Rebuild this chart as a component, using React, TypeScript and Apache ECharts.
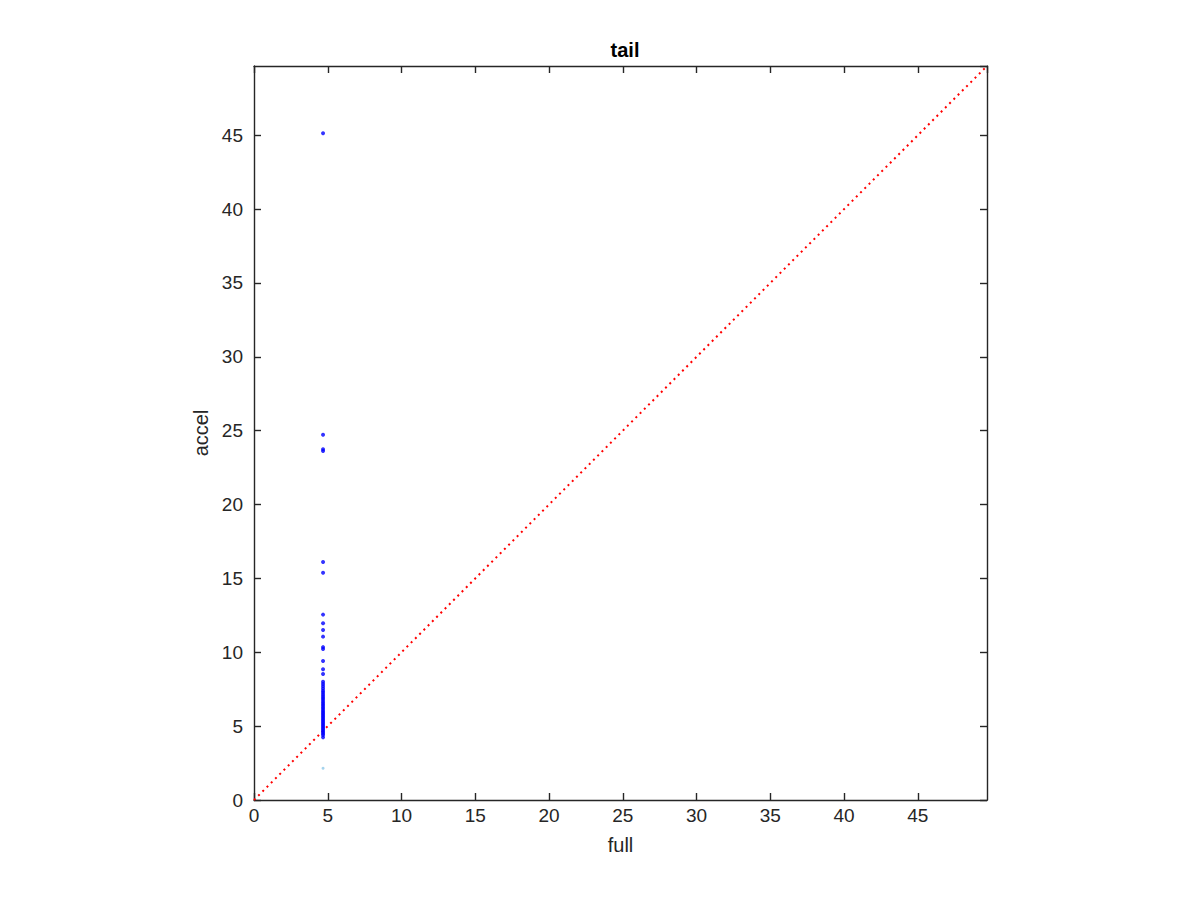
import React, { useEffect, useRef } from "react";
import * as echarts from "echarts";

const AXIS_MAX = 49.69;
const TICK_STEP = 5;
const FULL_VALUE = 4.68;
const accelValues = [
  45.14, 24.73, 23.75, 23.62, 16.11, 15.39, 12.55, 11.96, 11.51, 11.06, 10.35, 10.22,
  9.41, 8.85, 8.53, 8.01, 7.85, 7.7, 7.55, 7.4, 7.28, 7.15, 7.02, 6.9, 6.78, 6.66, 6.55,
  6.44, 6.33, 6.22, 6.11, 6.0, 5.9, 5.8, 5.7, 5.6, 5.5, 5.4, 5.3, 5.2, 5.1, 5.0, 4.9,
  4.8, 4.7, 4.6, 4.5, 4.4, 4.24,
];
const lightAccelValues = [2.15];
const diagonal = [0, AXIS_MAX];

const TEXT = "#262626";
const FONT = "'Liberation Sans', Arial, Helvetica, sans-serif";

export default function App() {
  const ref = useRef<HTMLDivElement>(null);
  useEffect(() => {
    const chart = echarts.init(ref.current!, null, { renderer: "svg" });
    const fmt = (v: number) => (Math.abs(v / TICK_STEP - Math.round(v / TICK_STEP)) < 1e-6 ? String(v) : "");
    const baseAxis = {
      type: "value",
      min: 0,
      max: AXIS_MAX,
      interval: TICK_STEP,
      splitLine: { show: false },
      axisLine: { show: true, onZero: false, lineStyle: { color: TEXT, width: 1.4 } },
      axisTick: { show: true, inside: true, length: 7, lineStyle: { color: TEXT, width: 1.4 } },
    };
    chart.setOption({
      animation: false,
      backgroundColor: "#ffffff",
      title: {
        text: "tail",
        left: 620,
        textAlign: "center",
        top: 35,
        textStyle: { fontFamily: FONT, fontSize: 20, fontWeight: "bold", color: "#000" },
      },
      grid: { left: 254, top: 66, right: 213, bottom: 100, containLabel: false },
      xAxis: [
        {
          ...baseAxis,
          position: "bottom",
          name: "full",
          nameLocation: "middle",
          nameGap: 35,
          nameTextStyle: { fontFamily: FONT, fontSize: 20, color: TEXT },
          axisLabel: { formatter: fmt, showMaxLabel: false, margin: 6, fontFamily: FONT, fontSize: 19, color: TEXT },
        },
        {
          ...baseAxis,
          position: "top",
          axisLabel: { show: false },
        },
      ],
      yAxis: [
        {
          ...baseAxis,
          position: "left",
          name: "accel",
          nameLocation: "middle",
          nameGap: 43,
          nameTextStyle: { fontFamily: FONT, fontSize: 20, color: TEXT },
          axisLabel: { formatter: fmt, showMaxLabel: false, margin: 11, fontFamily: FONT, fontSize: 19, color: TEXT },
        },
        {
          ...baseAxis,
          position: "right",
          axisLabel: { show: false },
        },
      ],
      series: [
        {
          type: "line",
          data: [
            [diagonal[0], diagonal[0]],
            [diagonal[1], diagonal[1]],
          ],
          showSymbol: false,
          symbol: "none",
          lineStyle: { color: "#ff0000", width: 2, type: [2, 4] },
          z: 3,
        },
        {
          type: "scatter",
          data: lightAccelValues.map((v) => [FULL_VALUE, v]),
          symbolSize: 3,
          itemStyle: { color: "#8fc8e8" },
          z: 2,
        },
        {
          type: "scatter",
          data: accelValues.map((v) => [FULL_VALUE, v]),
          symbolSize: 4,
          itemStyle: { color: "#0000ff" },
          z: 4,
        },
      ],
    });
    return () => chart.dispose();
  }, []);
  return (
    <div
      ref={ref}
      style={{ position: "fixed", left: 0, top: 0, width: 1200, height: 900, background: "#fff" }}
    />
  );
}
